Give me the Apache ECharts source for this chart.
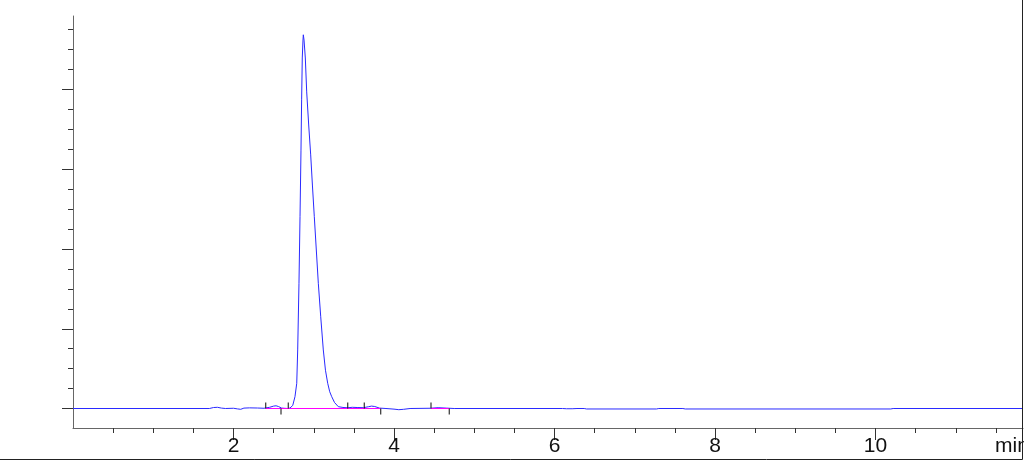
<!DOCTYPE html>
<html>
<head>
<meta charset="utf-8">
<style>
  html, body { margin: 0; padding: 0; background: #fff; }
  #chart { width: 1024px; height: 461px; }
</style>
<script src="https://cdn.jsdelivr.net/npm/echarts@6/dist/echarts.min.js"></script>
</head>
<body>
<div id="chart"></div>
<script>
// Chromatogram trace (time in min, signal in arbitrary units)
const times = [0, 1.70, 1.75, 1.80, 1.85, 1.90, 2.00, 2.05, 2.09, 2.13, 2.20, 2.30, 2.38, 2.45, 2.50, 2.53, 2.56, 2.60, 2.64,
  2.679, 2.704, 2.738, 2.766, 2.788, 2.800, 2.816, 2.829, 2.841, 2.849, 2.857, 2.866, 2.870,
  2.879, 2.895, 2.912, 2.937, 2.962, 2.984, 3.007, 3.057, 3.087, 3.119, 3.146, 3.174, 3.199, 3.224, 3.259, 3.306, 3.364, 3.423,
  3.48, 3.55, 3.62, 3.68, 3.72, 3.76, 3.82, 3.90, 4.00, 4.06, 4.12, 4.20, 4.45, 4.55, 4.65, 4.75,
  6.10, 6.15, 6.22, 6.28, 6.37, 6.40, 7.27, 7.30, 7.60, 7.63, 10.19, 10.22, 11.838];
const signal = [0, 0, 1.2, 1.5, 0.5, 0, 0.3, -0.5, -1.0, 0.5, 0.8, 0.6, 0.3, 1.5, 3.0, 3.4, 2.5, 0.5, 0.2,
  0, 0.6, 3.8, 14.8, 31.6, 73.4, 157, 240.5, 324, 387, 439.5, 462, 468.6,
  462, 439.5, 397, 355.5, 318, 279, 240.5, 157, 115, 73.4, 48, 31.6, 21, 14.8, 7.5, 2.3, 1.3, 0.9,
  1.5, 1.2, 1.0, 2.2, 3.0, 2.5, 0.5, 0, -0.8, -1.5, -1.0, 0, 0.3, 1.0, 0.5, 0,
  0, -0.3, -0.3, 0, 0, -0.6, -0.6, 0, 0, -0.6, -0.6, 0, 0];

// Integration baselines (start/end times) and peak event markers
const baseStarts = [2.401, 4.461];
const baseEnds = [3.834, 4.689];
const upTicks = [2.401, 2.683, 3.423, 3.630, 4.461];
const downTicks = [2.592, 3.834, 4.689];

// Axis ticks
const xMajorTicks = [2, 4, 6, 8, 10];
const xUnit = 'min';

const chart = echarts.init(document.getElementById('chart'), null, { renderer: 'canvas' });

const traceData = times.map((t, i) => [t, signal[i]]);
const baseData = [];
baseStarts.forEach((s, i) => {
  baseData.push([s, 0], [baseEnds[i], 0], [null, null]);
});

const AX = '#666';
const TK = '#333';
const FONT = 'Liberation Sans, Arial, sans-serif';

const hiddenX = (g) => ({ gridIndex: g, type: 'value', show: false, min: 0, max: 1 });
const hiddenY = (g) => ({ gridIndex: g, type: 'value', show: false, min: 0, max: 1 });

const option = {
  animation: false,
  backgroundColor: '#fff',
  grid: [
    { left: 73, width: 950, top: 16, height: 412, outerBoundsMode: 'none' },            // main plot
    { left: 73, width: 10, top: 89.5, height: 319, outerBoundsMode: 'none' },           // y major ticks
    { left: 73, width: 10, top: 29.69, height: 378.81, outerBoundsMode: 'none' },       // y minor ticks
    { left: 233.5, width: 642, top: 328, height: 100, outerBoundsMode: 'none' },        // x major ticks + labels
    { left: 113.125, width: 882.75, top: 328, height: 100, outerBoundsMode: 'none' }    // x minor ticks
  ],
  xAxis: [
    { gridIndex: 0, type: 'value', min: 0, max: 11.838,
      axisLine: { show: true, onZero: false, lineStyle: { color: AX, width: 1 } },
      axisTick: { show: false }, axisLabel: { show: false }, splitLine: { show: false } },
    hiddenX(1),
    hiddenX(2),
    { gridIndex: 3, type: 'value', min: xMajorTicks[0], max: xMajorTicks[xMajorTicks.length - 1], interval: 2,
      axisLine: { show: false, onZero: false },
      axisTick: { show: true, length: 12, lineStyle: { color: TK, width: 1 } },
      axisLabel: { show: true, fontSize: 21, color: '#111', margin: 8, fontFamily: FONT },
      splitLine: { show: false } },
    { gridIndex: 4, type: 'value', min: 0.5, max: 11.5, interval: 0.5,
      axisLine: { show: false, onZero: false },
      axisTick: { show: true, length: 5, lineStyle: { color: TK, width: 1 } },
      axisLabel: { show: false }, splitLine: { show: false } }
  ],
  yAxis: [
    { gridIndex: 0, type: 'value', min: -24.451, max: 492.163,
      axisLine: { show: true, onZero: false, lineStyle: { color: AX, width: 1 } },
      axisTick: { show: false }, axisLabel: { show: false }, splitLine: { show: false } },
    { gridIndex: 1, type: 'value', min: 0, max: 400, interval: 100,
      axisLine: { show: false, onZero: false },
      axisTick: { show: true, length: 11, lineStyle: { color: TK, width: 1 } },
      axisLabel: { show: false }, splitLine: { show: false } },
    { gridIndex: 2, type: 'value', min: 0, max: 475, interval: 25,
      axisLine: { show: false, onZero: false },
      axisTick: { show: true, length: 5, lineStyle: { color: TK, width: 1 } },
      axisLabel: { show: false }, splitLine: { show: false } },
    hiddenY(3),
    hiddenY(4)
  ],
  series: [
    { type: 'line', xAxisIndex: 0, yAxisIndex: 0, data: traceData, showSymbol: false, silent: true,
      lineStyle: { color: '#2a2aff', width: 1 }, z: 3 },
    { type: 'line', xAxisIndex: 0, yAxisIndex: 0, data: baseData, showSymbol: false, silent: true,
      connectNulls: false, lineStyle: { color: '#ff00ff', width: 1 }, z: 4 },
    { type: 'scatter', xAxisIndex: 0, yAxisIndex: 0, data: upTicks.map(t => [t, 0]), silent: true,
      symbol: 'rect', symbolSize: [1.3, 6], symbolOffset: [0, -3], itemStyle: { color: '#111' }, z: 5 },
    { type: 'scatter', xAxisIndex: 0, yAxisIndex: 0, data: downTicks.map(t => [t, 0]), silent: true,
      symbol: 'rect', symbolSize: [1.3, 6], symbolOffset: [0, 3], itemStyle: { color: '#111' }, z: 5 }
  ],
  graphic: [
    { type: 'text', left: 995, top: 436, silent: true, z: 10,
      style: { text: xUnit, fontSize: 21, fontFamily: FONT, fill: '#111' } },
    { type: 'rect', silent: true, z: 20,
      shape: { x: -10, y: -10, width: 1032.5, height: 469.5 },
      style: { fill: 'none', stroke: '#222', lineWidth: 1 } }
  ]
};

chart.setOption(option);
</script>
</body>
</html>
